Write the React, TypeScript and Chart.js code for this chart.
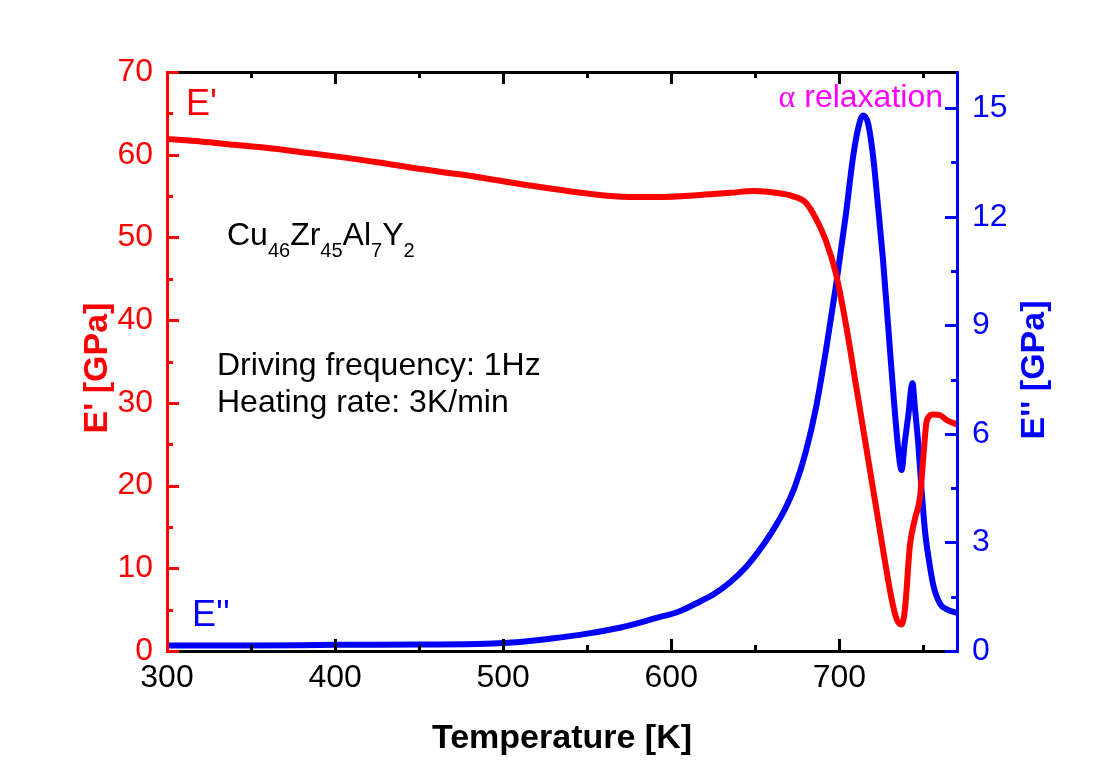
import { useEffect, useRef } from "react";
import { Chart, registerables } from "chart.js";

Chart.register(...registerables);

// Storage modulus E' (left axis, GPa)
const storageTemp = [300, 320, 340, 360, 380, 400, 425, 450, 475, 500, 525, 550, 575, 595, 615, 635, 650, 662, 672, 680, 686, 692, 698, 704, 710, 716, 722, 727, 731, 734, 737, 739, 742, 745, 748, 750, 752, 756, 760, 764, 770];
const storageModulus = [61.9, 61.6, 61.2, 60.8, 60.3, 59.8, 59.1, 58.3, 57.6, 56.8, 56.0, 55.3, 54.9, 54.9, 55.1, 55.4, 55.6, 55.4, 55.0, 54.2, 52.3, 49.6, 45.6, 39.4, 32.0, 24.6, 17.2, 11.0, 6.4, 3.9, 3.2, 5.0, 12.8, 16.0, 18.6, 23.5, 27.8, 28.6, 28.5, 27.9, 27.4];

// Loss modulus E'' (right axis, GPa)
const lossTemp = [300, 350, 400, 450, 490, 510, 530, 550, 570, 590, 605, 615, 625, 635, 645, 655, 662, 668, 674, 680, 686, 692, 698, 704, 708, 711, 714, 717, 720, 723, 726, 729, 732, 735, 737, 739, 741, 743.5, 745, 747, 749, 751, 753, 756, 760, 764, 770];
const lossModulus = [0.15, 0.15, 0.17, 0.18, 0.2, 0.25, 0.35, 0.48, 0.65, 0.9, 1.1, 1.32, 1.56, 1.9, 2.35, 2.95, 3.45, 3.95, 4.6, 5.5, 6.7, 8.3, 10.1, 12.1, 13.6, 14.4, 14.8, 14.6, 13.7, 12.3, 10.8, 9.0, 7.2, 5.6, 5.0, 5.8, 6.5, 7.4, 6.7, 5.7, 4.4, 3.3, 2.6, 1.8, 1.3, 1.15, 1.05];

// Axis ranges and tick steps
const tempRange = [300, 770];
const tempMajor = 100;
const storageRange = [0, 70];
const storageMajor = 10;
const lossRange = [0, 16];
const lossMajor = 3;

const SANS = "'Liberation Sans', Arial, sans-serif";
const RED = "#ff0000";
const BLUE = "#0000ff";
const MAGENTA = "#ff00ff";

const W = 1090;
const H = 759;

function ticksBetween(min: number, max: number, step: number) {
  const out: number[] = [];
  for (let v = min; v <= max + 1e-9; v += step) out.push(Math.round(v * 1000) / 1000);
  return out;
}

// Draws a chemical formula with subscripted counts, e.g. [["Cu","46"],["Zr","45"]]
function drawFormula(ctx: CanvasRenderingContext2D, parts: [string, string][], x: number, y: number) {
  let cx = x;
  for (const [el, n] of parts) {
    ctx.font = `32px ${SANS}`;
    ctx.fillText(el, cx, y);
    cx += ctx.measureText(el).width;
    ctx.font = `20px ${SANS}`;
    ctx.fillText(n, cx, y + 12);
    cx += ctx.measureText(n).width;
  }
}

const framePlugin = {
  id: "frameAndNotes",
  afterDatasetsDraw(chart: any) {
    const { ctx, chartArea } = chart;
    const { left, right, top, bottom } = chartArea;
    const xs = chart.scales.x;
    const ys = chart.scales.y;
    const y1 = chart.scales.y1;
    ctx.save();
    ctx.lineCap = "butt";
    ctx.lineWidth = 3;

    // top and bottom frame
    ctx.strokeStyle = "#000";
    ctx.beginPath();
    ctx.moveTo(left, top + 0.5);
    ctx.lineTo(right, top + 0.5);
    ctx.moveTo(left, bottom + 0.5);
    ctx.lineTo(right, bottom + 0.5);
    ctx.stroke();

    // temperature ticks, pointing inward on bottom and top
    ctx.beginPath();
    for (const v of ticksBetween(tempRange[0], tempRange[1], tempMajor / 2)) {
      const px = Math.round(xs.getPixelForValue(v)) + 0.5;
      const len = v % tempMajor === 0 ? 12 : 6;
      ctx.moveTo(px, bottom);
      ctx.lineTo(px, bottom - len);
      ctx.moveTo(px, top);
      ctx.lineTo(px, top + len);
    }
    ctx.stroke();

    // left axis (E')
    ctx.strokeStyle = RED;
    ctx.beginPath();
    ctx.moveTo(left + 0.5, top - 1);
    ctx.lineTo(left + 0.5, bottom + 2);
    for (const v of ticksBetween(storageRange[0], storageRange[1], storageMajor / 2)) {
      const py = Math.round(ys.getPixelForValue(v)) + 0.5;
      const len = v % storageMajor === 0 ? 12 : 6;
      ctx.moveTo(left, py);
      ctx.lineTo(left + len, py);
    }
    ctx.stroke();

    // right axis (E'')
    ctx.strokeStyle = BLUE;
    ctx.beginPath();
    ctx.moveTo(right + 0.5, top - 1);
    ctx.lineTo(right + 0.5, bottom + 2);
    for (const v of ticksBetween(lossRange[0], lossRange[1], lossMajor / 2)) {
      const py = Math.round(y1.getPixelForValue(v)) + 0.5;
      const isMajor = Math.abs(v / lossMajor - Math.round(v / lossMajor)) < 1e-6;
      const len = isMajor ? 12 : 6;
      ctx.moveTo(right, py);
      ctx.lineTo(right - len, py);
    }
    ctx.stroke();

    // axis titles
    ctx.textBaseline = "alphabetic";
    ctx.fillStyle = "#000";
    ctx.font = `bold 34px ${SANS}`;
    ctx.textAlign = "center";
    ctx.fillText("Temperature [K]", (left + right) / 2, 740);

    ctx.textBaseline = "middle";
    ctx.save();
    ctx.translate(90, 360);
    ctx.rotate(-Math.PI / 2);
    ctx.fillStyle = RED;
    ctx.fillText("E' [GPa]", 0, 0);
    ctx.restore();

    ctx.save();
    ctx.translate(1027, 362);
    ctx.rotate(-Math.PI / 2);
    ctx.fillStyle = BLUE;
    ctx.fillText("E'' [GPa]", 0, 0);
    ctx.restore();

    // curve labels
    ctx.textBaseline = "alphabetic";
    ctx.textAlign = "left";
    ctx.font = `36px ${SANS}`;
    ctx.fillStyle = RED;
    ctx.fillText("E'", 178, 107);
    ctx.fillStyle = BLUE;
    ctx.fillText("E''", 184, 618);

    // peak label
    ctx.fillStyle = MAGENTA;
    ctx.font = `32px ${SANS}`;
    ctx.textAlign = "right";
    const rest = " relaxation";
    ctx.fillText(rest, 935, 99);
    const restW = ctx.measureText(rest).width;
    ctx.font = `32px 'Liberation Serif', 'Times New Roman', serif`;
    ctx.fillText("\u03b1", 935 - restW, 99);

    // sample and measurement notes
    ctx.textAlign = "left";
    ctx.fillStyle = "#000";
    drawFormula(ctx, [["Cu", "46"], ["Zr", "45"], ["Al", "7"], ["Y", "2"]], 219, 237);
    ctx.font = `32px ${SANS}`;
    ctx.fillText("Driving frequency: 1Hz", 209, 367);
    ctx.fillText("Heating rate: 3K/min", 209, 404);

    ctx.restore();
  },
};

export default function App() {
  const ref = useRef<HTMLCanvasElement | null>(null);

  useEffect(() => {
    if (!ref.current) return;
    const chart = new Chart(ref.current, {
      type: "line",
      data: {
        datasets: [
          {
            label: "E'",
            data: storageTemp.map((t, i) => ({ x: t, y: storageModulus[i] })),
            borderColor: RED,
            backgroundColor: RED,
            borderWidth: 6,
            pointRadius: 0,
            cubicInterpolationMode: "monotone",
            yAxisID: "y",
          },
          {
            label: "E''",
            data: lossTemp.map((t, i) => ({ x: t, y: lossModulus[i] })),
            borderColor: BLUE,
            backgroundColor: BLUE,
            borderWidth: 6,
            pointRadius: 0,
            cubicInterpolationMode: "monotone",
            yAxisID: "y1",
          },
        ],
      },
      options: {
        responsive: false,
        animation: false,
        devicePixelRatio: 1,
        layout: { padding: { top: 64, left: 0, right: 0, bottom: 0 } },
        plugins: { legend: { display: false }, tooltip: { enabled: false } },
        scales: {
          x: {
            type: "linear",
            position: "bottom",
            min: tempRange[0],
            max: tempRange[1],
            grid: { display: false, drawTicks: false },
            border: { display: false },
            ticks: {
              stepSize: tempMajor,
              includeBounds: false,
              color: "#000",
              font: { size: 32, family: SANS },
              padding: 8,
              maxRotation: 0,
            },
            afterFit: (s: any) => {
              s.height = 116;
            },
          },
          y: {
            position: "left",
            min: storageRange[0],
            max: storageRange[1],
            grid: { display: false, drawTicks: false },
            border: { display: false },
            ticks: {
              stepSize: storageMajor,
              includeBounds: false,
              color: RED,
              font: { size: 32, family: SANS },
              padding: 14,
            },
            afterFit: (s: any) => {
              s.width = 159;
            },
          },
          y1: {
            position: "right",
            min: lossRange[0],
            max: lossRange[1],
            grid: { display: false, drawTicks: false },
            border: { display: false },
            ticks: {
              stepSize: lossMajor,
              includeBounds: false,
              color: BLUE,
              font: { size: 32, family: SANS },
              padding: 15,
            },
            afterFit: (s: any) => {
              s.width = W - 949;
            },
          },
        },
      },
      plugins: [framePlugin],
    });
    return () => chart.destroy();
  }, []);

  return (
    <div style={{ width: W, height: H }}>
      <canvas ref={ref} width={W} height={H} style={{ display: "block", width: W, height: H }} />
    </div>
  );
}
